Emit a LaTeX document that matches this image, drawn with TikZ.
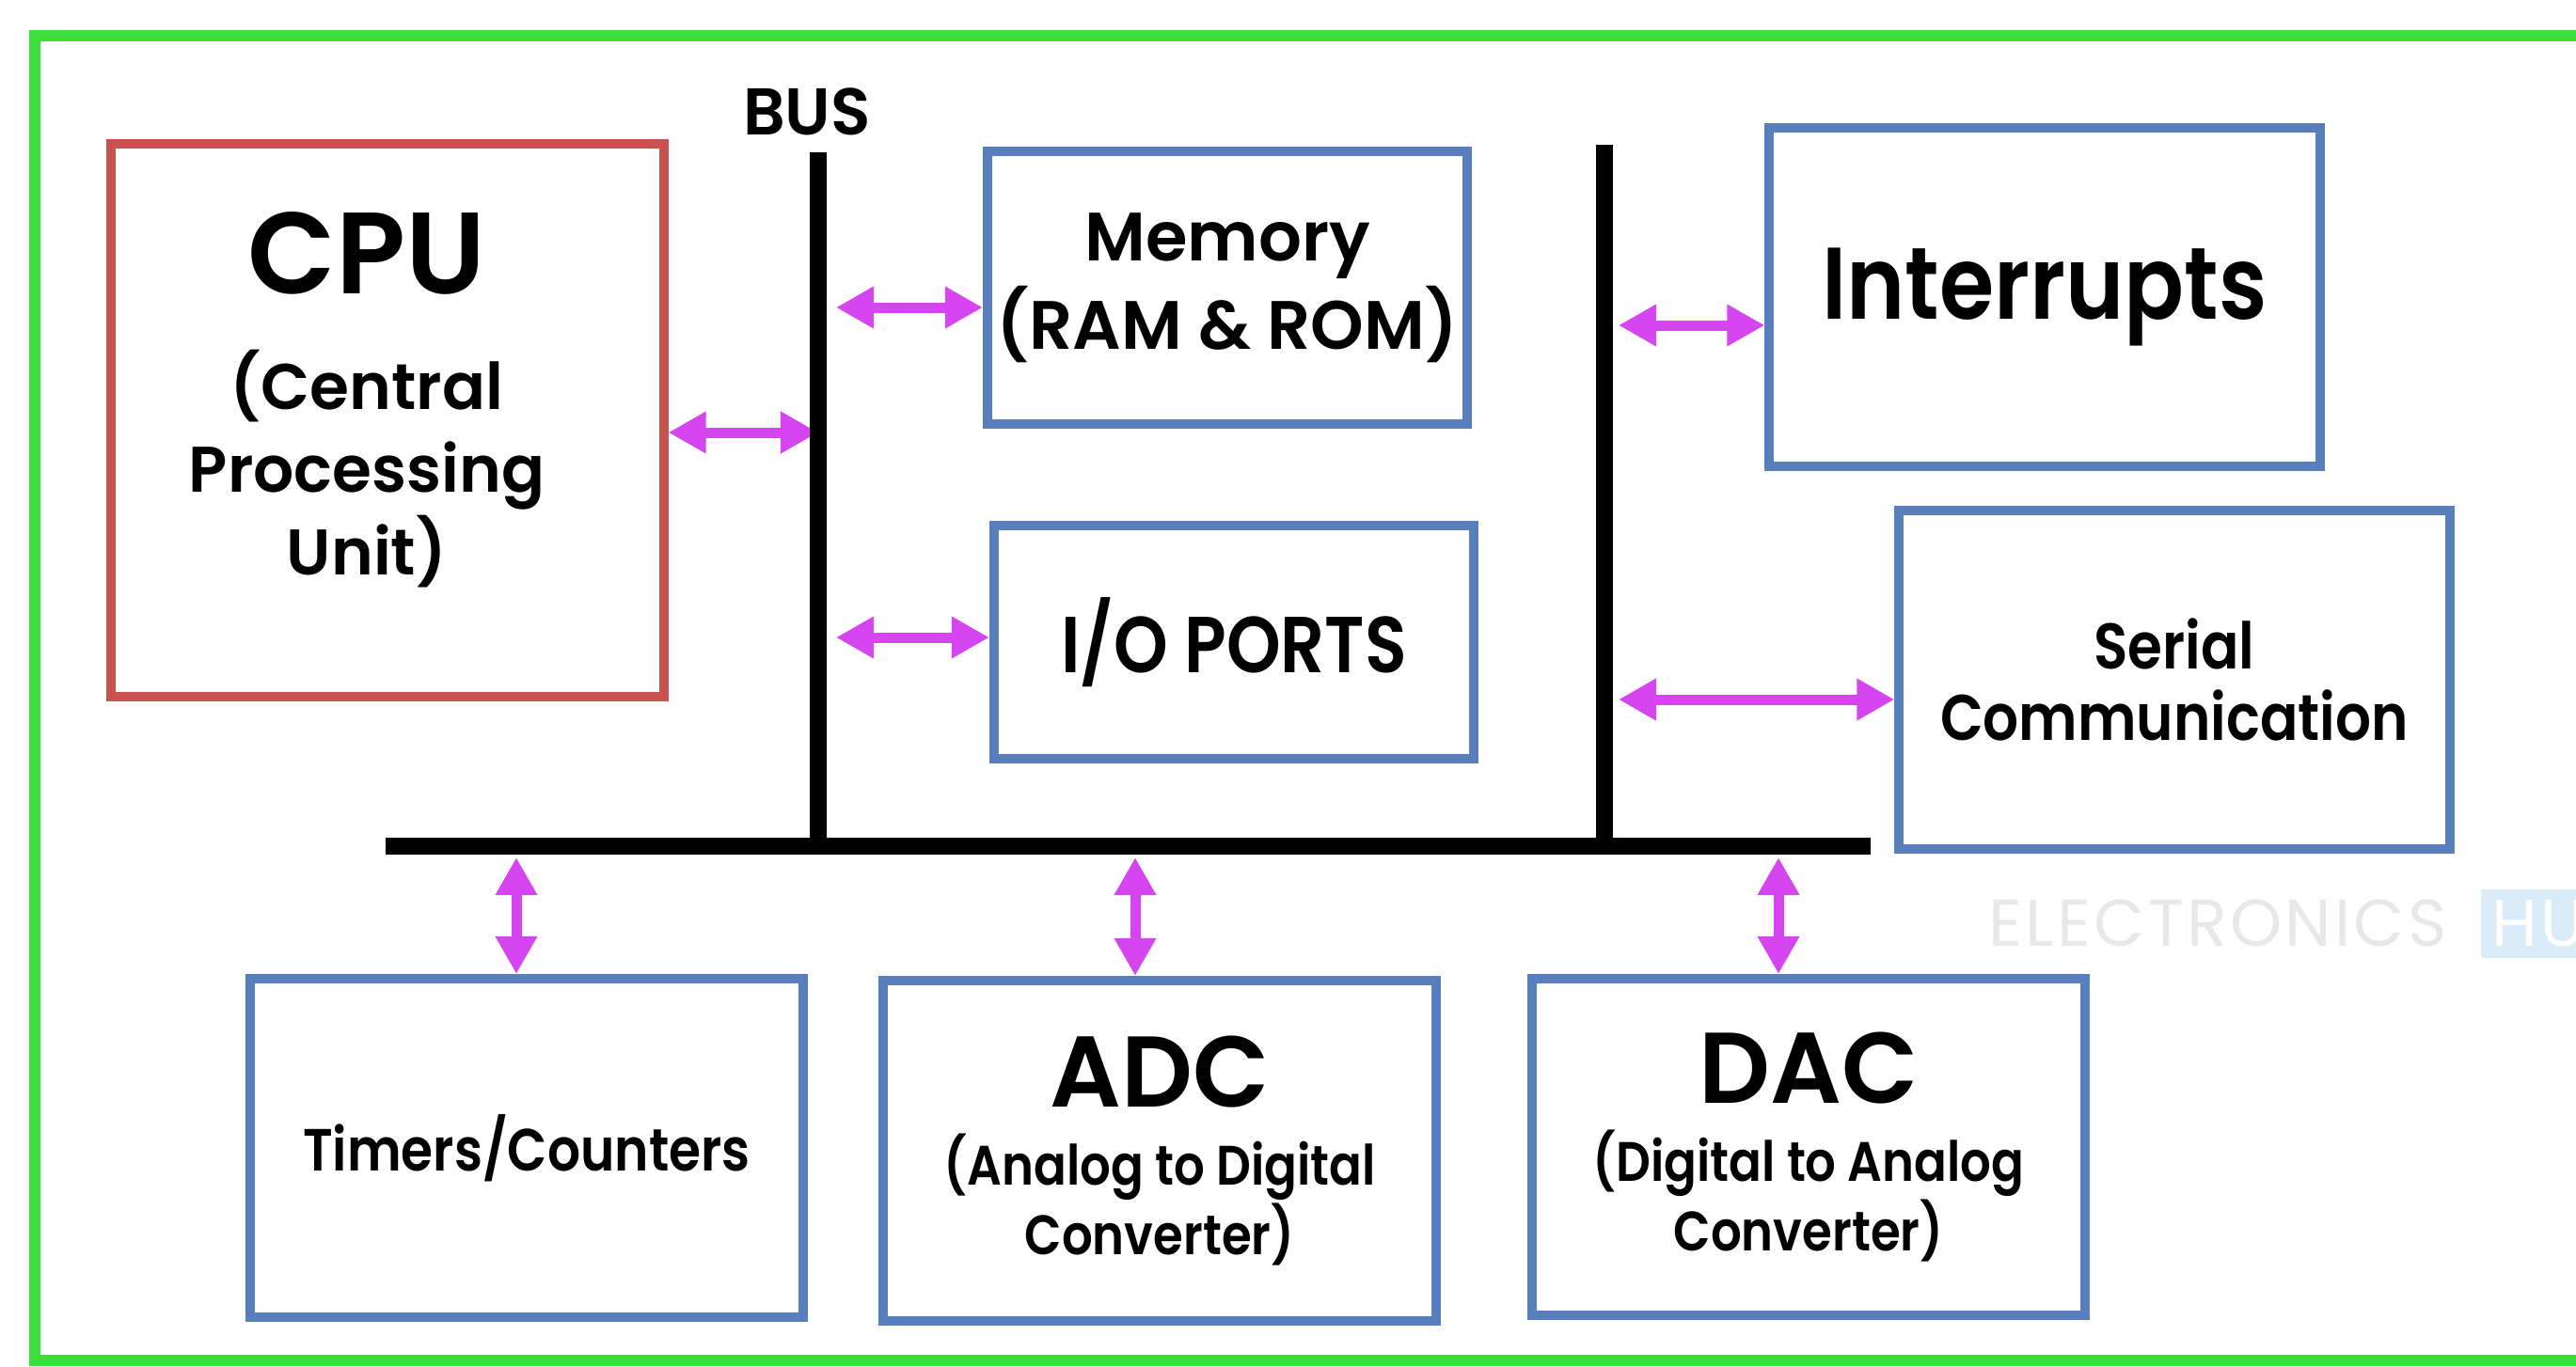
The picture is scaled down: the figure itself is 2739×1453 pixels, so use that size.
\documentclass[tikz,border=0pt]{standalone}
\usepackage{fontspec}
\setmainfont{Poppins SemiBold}[FakeStretch=0.87]
\newfontfamily\widef{Poppins SemiBold}[FakeStretch=0.99]
\newfontfamily\wmf{Poppins}[LetterSpace=4.5]
\usetikzlibrary{arrows.meta}

\definecolor{framegreen}{RGB}{60,222,60}
\definecolor{cpured}{RGB}{200,82,80}
\definecolor{blkblue}{RGB}{88,126,190}
\definecolor{linkpink}{RGB}{214,70,240}
\definecolor{hubblue}{RGB}{218,236,248}

% font sizes
\newcommand\fBig{\fontsize{35}{42}\selectfont}
\newcommand\fSubA{\widef\fontsize{19.5}{25}\selectfont}
\newcommand\fMem{\widef\fontsize{20.7}{26.7}\selectfont}
\newcommand\fIO{\fontsize{24}{28}\selectfont}
\newcommand\fInt{\fontsize{30.8}{36}\selectfont}
\newcommand\fSer{\fontsize{19.5}{21.5}\selectfont}
\newcommand\fTim{\fontsize{18}{21}\selectfont}
\newcommand\fConv{\widef\fontsize{30.4}{36}\selectfont}
\newcommand\fSubB{\fontsize{16.8}{16.4}\selectfont}
\newcommand\fBus{\widef\fontsize{20}{24}\selectfont}
\newcommand\fWm{\wmf\fontsize{20}{24}\selectfont}

\tikzset{
  blk/.style={draw=blkblue, line width=0.1cm, align=center, inner sep=0pt},
  cpublk/.style={blk, draw=cpured},
  bus/.style={line width=0.18cm},
  bidir/.style={draw=linkpink, line width=0.11cm,
    {Triangle[length=0.4cm,width=0.42cm]}-{Triangle[length=0.4cm,width=0.42cm]}},
}

\begin{document}
\begin{tikzpicture}[x=0.01cm,y=-0.01cm]
\useasboundingbox (0,0) rectangle (2739,1453);
% frame
\draw[framegreen, line width=0.12cm] (37,38) rectangle (2800,1447);

% blocks
\node[cpublk, minimum width=5.87cm, minimum height=5.87cm] (cpu) at (412,447) {};
\node[align=center, font=\fSubA] (cputxt) at (390,425)
  {{\fBig CPU}\\[0.35cm](Central\\Processing\\Unit)};
\node[blk, minimum width=5.1cm, minimum height=2.9cm, font=\fMem] (mem) at (1305,306)
  {Memory\\(RAM \& ROM)};
\node[blk, minimum width=5.1cm, minimum height=2.48cm, font=\fIO] (io) at (1312,683)
  {I/O PORTS};
\node[blk, minimum width=5.85cm, minimum height=3.6cm, font=\fInt] (irq) at (2174,316)
  {Interrupts};
\node[blk, minimum width=5.85cm, minimum height=3.6cm, font=\fSer] (ser) at (2312,723)
  {Serial\\Communication};
\node[blk, minimum width=5.87cm, minimum height=3.6cm, font=\fTim] (tim) at (560,1221)
  {Timers/Counters};
\node[blk, minimum width=5.87cm, minimum height=3.62cm, font=\fSubB] (adc) at (1233,1224)
  {{\fConv ADC}\\[0.26cm](Analog to Digital\\Converter)};
\node[blk, minimum width=5.87cm, minimum height=3.58cm, font=\fSubB] (dac) at (1923,1220)
  {{\fConv DAC}\\[0.26cm](Digital to Analog\\Converter)};

\node[font=\fBus] (buslbl) at (858,119) {BUS};

% bus ends and taps
\coordinate (busLt) at (870,162);
\coordinate (busLb) at (870,900);
\coordinate (busRt) at (1706,154);
\coordinate (busRb) at (1706,900);
\coordinate (busHl) at (410,900);
\coordinate (busHr) at (1989,900);
\coordinate (tapC) at (870,460);
\coordinate (tapM) at (870,327);
\coordinate (tapI) at (870,678);
\coordinate (tapQ) at (1706,346);
\coordinate (tapS) at (1706,744);
\coordinate (tapT) at (549,900);
\coordinate (tapA) at (1207,900);
\coordinate (tapD) at (1891,900);

% links
\draw[bidir] (tapC -| cpu.east) -- (tapC);
\draw[bidir, shorten <=0.19cm] (tapM) -- (tapM -| mem.west);
\draw[bidir, shorten <=0.19cm] (tapI) -- (tapI -| io.west);
\draw[bidir, shorten <=0.15cm] (tapQ) -- (tapQ -| irq.west);
\draw[bidir, shorten <=0.15cm] (tapS) -- (tapS -| ser.west);
\draw[bidir, shorten <=0.12cm] (tapT) -- (tapT |- tim.north);
\draw[bidir, shorten <=0.12cm] (tapA) -- (tapA |- adc.north);
\draw[bidir, shorten <=0.12cm] (tapD) -- (tapD |- dac.north);

% buses
\draw[bus] (busLt) -- (busLb);
\draw[bus] (busRt) -- (busRb);
\draw[bus] (busHl) -- (busHr);

% watermark
\node[font=\fWm, text=black!9, anchor=west, inner sep=0pt] (wm) at (2114,982) {ELECTRONICS};
\node[fill=hubblue, text=white, font=\fWm, anchor=west, minimum height=0.72cm]
  (wmhub) at (2637,982) {HUB};
\end{tikzpicture}
\end{document}
